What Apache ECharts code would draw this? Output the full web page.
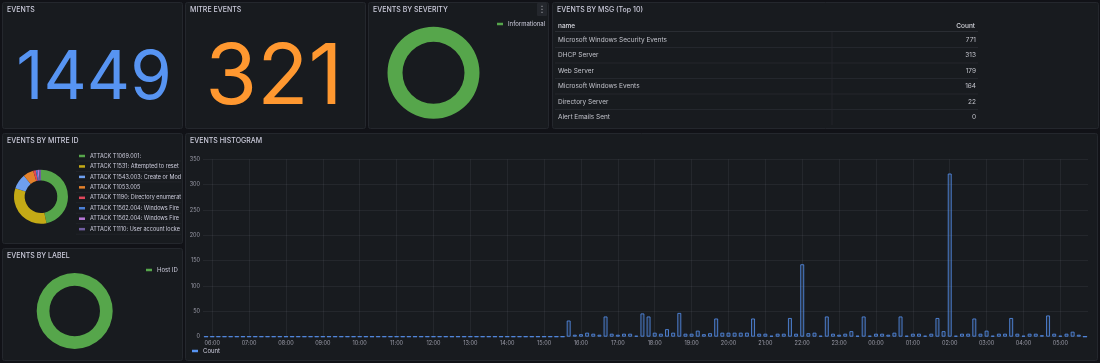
<!DOCTYPE html>
<html><head><meta charset="utf-8">
<script src="https://cdn.jsdelivr.net/npm/echarts@6/dist/echarts.min.js"></script>
<style>html,body{margin:0;padding:0;background:#111217;overflow:hidden}#c{width:1100px;height:363px}</style>
</head><body><div id="c"></div>
<script>
// ---------- DATA ----------
const statTitles = ['EVENTS', 'MITRE EVENTS'];
const statValues = [1449, 321];

const severityNames = ['Informational'];
const severityValues = [1449];

const labelNames = ['Host ID'];
const labelValues = [1449];

const mitreNames = [
  'ATTACK T1069.001:',
  'ATTACK T1531: Attempted to reset',
  'ATTACK T1543.003: Create or Modify',
  'ATTACK T1053.005',
  'ATTACK T1190: Directory enumeration',
  'ATTACK T1562.004: Windows Firewall',
  'ATTACK T1562.004: Windows Firewall ',
  'ATTACK T1110: User account locked'
];
const mitreValues = [150, 107, 29, 20, 5, 3, 3, 4];

const tableHeaders = ['name', 'Count'];
const msgNames = ['Microsoft Windows Security Events', 'DHCP Server', 'Web Server',
  'Microsoft Windows Events', 'Directory Server', 'Alert Emails Sent'];
const msgCounts = [771, 313, 179, 164, 22, 0];

const tickLabels = ['06:00','07:00','08:00','09:00','10:00','11:00','12:00','13:00','14:00','15:00',
  '16:00','17:00','18:00','19:00','20:00','21:00','22:00','23:00','00:00','01:00','02:00','03:00','04:00','05:00'];
const firstBinMinutes = -10;   // first bin 05:50 (minutes relative to 06:00)
const binMinutes = 10;
const histCounts = [
  0,0,0,0,0,0,0,0,0,0, 0,0,0,0,0,0,0,0,0,0,
  0,0,0,0,0,0,0,0,0,0, 0,0,0,0,0,0,0,0,0,0,
  0,0,0,0,0,0,0,0,0,0, 0,0,0,0,0,0,0,0,0,
  32,4,5,8,6,4,40,6,4,6,6,2,
  46,40,8,6,15,8,47,6,6,12,5,7,
  36,8,8,8,8,8,36,6,6,2,6,6,
  37,6,143,7,8,2,40,6,4,6,11,2,
  40,2,6,6,4,8,40,2,6,6,2,6,
  37,11,322,2,6,6,36,6,12,2,6,6,
  37,6,2,6,6,3,42,6,2,6,10,4,0
];

// ---------- STYLE ----------
const TXT = '#ccccdc';
const FONT = 'Inter, "Noto Sans", sans-serif';
const PANEL_BG = '#181b1f';
const PANEL_BORDER = '#24272d';
const pieColors = ['#56A64B', '#C4AA16', '#6E9FEF', '#E3812B', '#E0475B', '#4A7FD6', '#B877D9', '#705DA0'];

const panels = [
  {x: 2, y: 2, w: 180, h: 126, t: statTitles[0]},
  {x: 185, y: 2, w: 180, h: 126, t: statTitles[1]},
  {x: 368, y: 2, w: 180, h: 126, t: 'EVENTS BY SEVERITY'},
  {x: 552, y: 2, w: 546, h: 126, t: 'EVENTS BY MSG (Top 10)'},
  {x: 2, y: 133, w: 180, h: 110, t: 'EVENTS BY MITRE ID'},
  {x: 2, y: 248, w: 180, h: 112, t: 'EVENTS BY LABEL'},
  {x: 185, y: 133, w: 912, h: 227, t: 'EVENTS HISTOGRAM'}
];

const graphics = [];
panels.forEach(p => {
  graphics.push({type: 'rect', z: -10, shape: {x: p.x + 0.5, y: p.y + 0.5, width: p.w, height: p.h, r: 2},
    style: {fill: PANEL_BG, stroke: PANEL_BORDER, lineWidth: 1}});
  graphics.push({type: 'text', z: 10, x: p.x + 5, y: p.y + 8,
    style: {text: p.t, fill: TXT, font: '500 7px ' + FONT, textVerticalAlign: 'middle'}});
});
// stat values
const statColors = ['#5794F2', '#FF9830'];
const statPos = [{x: 94, y: 79, s: 67}, {x: 274, y: 79, s: 84}];
statValues.forEach((v, i) => {
  graphics.push({type: 'text', z: 10, x: statPos[i].x, y: statPos[i].y,
    style: {text: String(v), fill: statColors[i], font: '400 ' + statPos[i].s + 'px ' + FONT,
      textAlign: 'center', textVerticalAlign: 'middle'}});
});
// severity panel menu
graphics.push({type: 'rect', z: 5, shape: {x: 537, y: 3, width: 10, height: 13, r: 1}, style: {fill: '#24272d'}});
graphics.push({type: 'text', z: 10, x: 542, y: 9.5,
  style: {text: '⋮', fill: '#9fa1a8', font: '9px "DejaVu Sans"', textAlign: 'center', textVerticalAlign: 'middle'}});

// table
const tL = 555, tR = 978, hdrY = 26, row0 = 40, rowH = 15.5, colDiv = 832;
graphics.push({type: 'text', z: 10, x: tL + 3, y: hdrY,
  style: {text: tableHeaders[0], fill: '#d8d9e0', font: '500 6.5px ' + FONT, textVerticalAlign: 'middle'}});
graphics.push({type: 'text', z: 10, x: tR - 3, y: hdrY,
  style: {text: tableHeaders[1], fill: '#d8d9e0', font: '500 6.5px ' + FONT, textAlign: 'right', textVerticalAlign: 'middle'}});
graphics.push({type: 'line', z: 5, shape: {x1: tL, y1: 31.5, x2: tR, y2: 31.5}, style: {stroke: '#2a2d33', lineWidth: 1}});
graphics.push({type: 'line', z: 5, shape: {x1: colDiv, y1: 32, x2: colDiv, y2: 125}, style: {stroke: '#22252b', lineWidth: 1}});
msgNames.forEach((n, i) => {
  const y = row0 + i * rowH;
  graphics.push({type: 'text', z: 10, x: tL + 3, y: y,
    style: {text: n, fill: '#c3c4cc', font: '400 6.5px ' + FONT, textVerticalAlign: 'middle'}});
  graphics.push({type: 'text', z: 10, x: tR - 2, y: y,
    style: {text: String(msgCounts[i]), fill: '#c3c4cc', font: '400 6.5px ' + FONT, textAlign: 'right', textVerticalAlign: 'middle'}});
  if (i < msgNames.length - 1) {
    graphics.push({type: 'line', z: 5, shape: {x1: tL, y1: y + 7.5, x2: tR, y2: y + 7.5}, style: {stroke: '#24272d', lineWidth: 1}});
  }
});
// mitre legend row separators
mitreNames.forEach((n, i) => {
  const y = 161 + i * 10.45;
  graphics.push({type: 'line', z: 5, shape: {x1: 76, y1: y, x2: 181, y2: y}, style: {stroke: '#212429', lineWidth: 1}});
});

// histogram data
const histData = histCounts.map((v, i) => [firstBinMinutes + i * binMinutes, v]);
const tickValues = tickLabels.map((l, k) => k * 60);

const option = {
  backgroundColor: '#111217',
  animation: false,
  textStyle: {fontFamily: FONT},
  graphic: graphics,
  legend: [
    {data: severityNames, left: 497, top: 21, orient: 'vertical', icon: 'rect', itemWidth: 6, itemHeight: 2.5,
      itemGap: 4, padding: 0, textStyle: {color: TXT, fontSize: 6, fontFamily: FONT}, selectedMode: false},
    {data: mitreNames, left: 79, top: 152, orient: 'vertical', icon: 'rect', itemWidth: 6, itemHeight: 2.5,
      itemGap: 2.45, padding: 0, selectedMode: false,
      textStyle: {color: TXT, fontSize: 5.5, lineHeight: 8, fontFamily: FONT, width: 93, overflow: 'truncate', ellipsis: ''}},
    {data: labelNames, left: 146, top: 267, orient: 'vertical', icon: 'rect', itemWidth: 6, itemHeight: 2.5,
      padding: 0, textStyle: {color: TXT, fontSize: 6, fontFamily: FONT}, selectedMode: false},
    {data: ['Count'], left: 192, top: 348, icon: 'rect', itemWidth: 6, itemHeight: 2.5,
      itemStyle: {color: '#5794F2', borderWidth: 0},
      padding: 0, textStyle: {color: TXT, fontSize: 6, fontFamily: FONT}, selectedMode: false}
  ],
  grid: {left: 203, right: 12, top: 159.3, bottom: 26.3, containLabel: false},
  xAxis: {
    type: 'value', min: -15, max: 1425,
    axisLine: {show: false}, axisTick: {show: false, customValues: tickValues},
    axisLabel: {customValues: tickValues, color: 'rgba(204,204,220,0.7)', fontSize: 5.5, margin: 4,
      formatter: v => tickLabels[Math.round(v / 60)] || ''},
    splitLine: {show: true, lineStyle: {color: 'rgba(204,204,220,0.07)', width: 1}}
  },
  yAxis: {
    type: 'value', min: 0, max: 350, interval: 50,
    axisLine: {show: false}, axisTick: {show: false},
    axisLabel: {color: 'rgba(204,204,220,0.7)', fontSize: 5.5, margin: 3},
    splitLine: {show: true, lineStyle: {color: 'rgba(204,204,220,0.07)', width: 1}}
  },
  series: [
    {type: 'pie', name: 'severity', center: [433.5, 72.8], radius: [31, 46], startAngle: 90,
      label: {show: false}, labelLine: {show: false}, emphasis: {disabled: true}, silent: true,
      data: severityNames.map((n, i) => ({name: n, value: severityValues[i], itemStyle: {color: '#56A64B'}}))},
    {type: 'pie', name: 'mitre', center: [41, 196.7], radius: [16.3, 27], startAngle: 90,
      label: {show: false}, labelLine: {show: false}, emphasis: {disabled: true}, silent: true,
      data: mitreNames.map((n, i) => ({name: n, value: mitreValues[i], itemStyle: {color: pieColors[i]}}))},
    {type: 'pie', name: 'label', center: [74.7, 311], radius: [25.3, 38], startAngle: 90,
      label: {show: false}, labelLine: {show: false}, emphasis: {disabled: true}, silent: true,
      data: labelNames.map((n, i) => ({name: n, value: labelValues[i], itemStyle: {color: '#56A64B'}}))},
    {type: 'bar', name: 'Count', data: histData, barWidth: 4, silent: true,
      itemStyle: {color: 'rgba(87,148,242,0.12)', borderColor: 'rgba(87,148,242,0.8)', borderWidth: 1}}
  ]
};
const chart = echarts.init(document.getElementById('c'), null, {renderer: 'canvas'});
chart.setOption(option);
</script>
</body></html>
